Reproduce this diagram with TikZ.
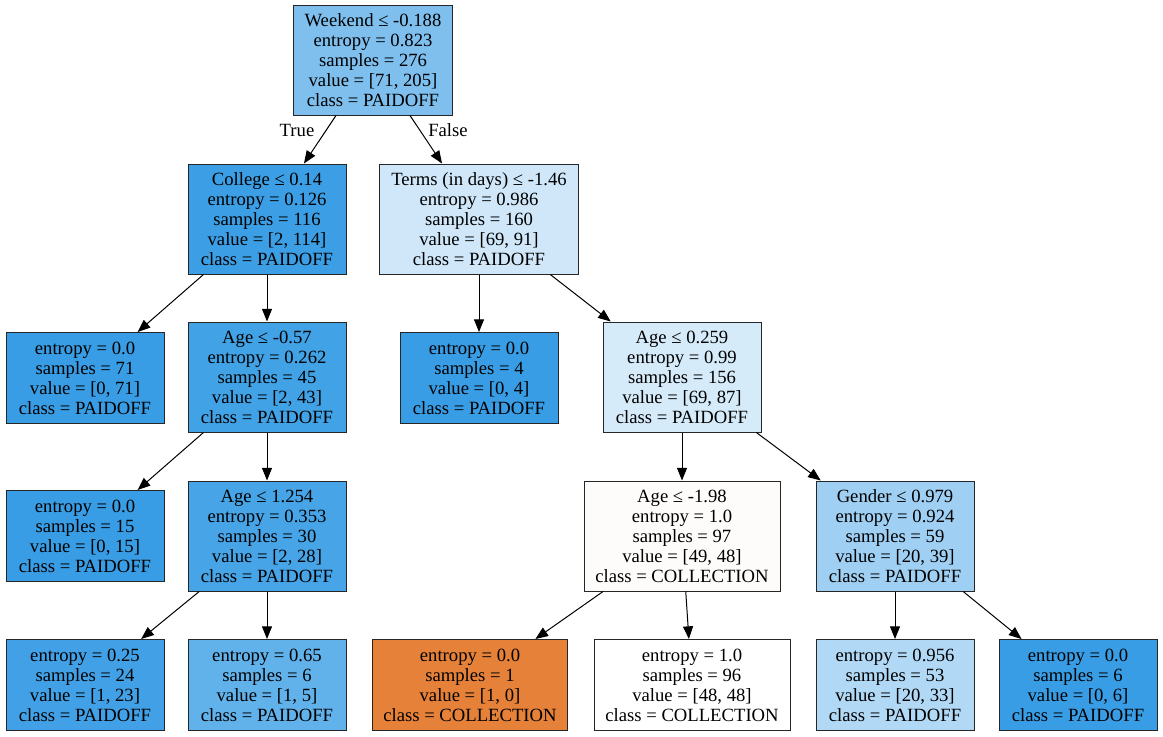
\documentclass[tikz,border=0pt]{standalone}
\usepackage{fontspec}
\setmainfont{Liberation Serif}
\usetikzlibrary{arrows.meta}
\definecolor{cWeekend}{HTML}{7EBFEE}
\definecolor{cCollege}{HTML}{3C9FE5}
\definecolor{cTerms}{HTML}{CFE7F9}
\definecolor{cPure}{HTML}{399DE5}
\definecolor{cAgeA}{HTML}{42A2E6}
\definecolor{cAgeB}{HTML}{D6EBFA}
\definecolor{cAgeC}{HTML}{47A4E7}
\definecolor{cAgeD}{HTML}{FEFCFB}
\definecolor{cGender}{HTML}{9FCFF2}
\definecolor{cLeafA}{HTML}{42A1E6}
\definecolor{cLeafB}{HTML}{61B1EA}
\definecolor{cColl}{HTML}{E58139}
\definecolor{cLeafC}{HTML}{B1D8F5}
\tikzset{
  split/.style={draw=black!85,line width=0.75pt,align=center,inner xsep=8.5pt,minimum width=118.5pt,minimum height=82.5pt,font=\fontsize{14}{15}\selectfont},
  leaf/.style={split,minimum height=68.25pt},
  lbl/.style={font=\fontsize{14}{15}\selectfont}
}
\begin{document}
\begin{tikzpicture}[>={Triangle[length=9.5pt,width=7.5pt]},x=0.75pt,y=-0.75pt]
		\useasboundingbox (0,0) rectangle (1163,736);
		% level 0
		\node[split,fill=cWeekend] (weekend) at (373,60) {Weekend ≤ -0.188\\entropy = 0.823\\samples = 276\\value = [71, 205]\\class = PAIDOFF};
		% level 1
		\node[split,fill=cCollege] (college) at (267,219) {College ≤ 0.14\\entropy = 0.126\\samples = 116\\value = [2, 114]\\class = PAIDOFF};
		\node[split,fill=cTerms] (terms) at (479,219) {Terms (in days) ≤ -1.46\\entropy = 0.986\\samples = 160\\value = [69, 91]\\class = PAIDOFF};
		% level 2
		\node[leaf,fill=cPure] (leafSeventyOne) at (85,378) {entropy = 0.0\\samples = 71\\value = [0, 71]\\class = PAIDOFF};
		\node[split,fill=cAgeA] (ageA) at (267,377) {Age ≤ -0.57\\entropy = 0.262\\samples = 45\\value = [2, 43]\\class = PAIDOFF};
		\node[leaf,fill=cPure] (leafFour) at (479,378) {entropy = 0.0\\samples = 4\\value = [0, 4]\\class = PAIDOFF};
		\node[split,fill=cAgeB] (ageB) at (682,377) {Age ≤ 0.259\\entropy = 0.99\\samples = 156\\value = [69, 87]\\class = PAIDOFF};
		% level 3
		\node[leaf,fill=cPure] (leafFifteen) at (85,536) {entropy = 0.0\\samples = 15\\value = [0, 15]\\class = PAIDOFF};
		\node[split,fill=cAgeC] (ageC) at (267,536) {Age ≤ 1.254\\entropy = 0.353\\samples = 30\\value = [2, 28]\\class = PAIDOFF};
		\node[split,fill=cAgeD] (ageD) at (682,536) {Age ≤ -1.98\\entropy = 1.0\\samples = 97\\value = [49, 48]\\class = COLLECTION};
		\node[split,fill=cGender] (gender) at (895,536) {Gender ≤ 0.979\\entropy = 0.924\\samples = 59\\value = [20, 39]\\class = PAIDOFF};
		% level 4
		\node[leaf,fill=cLeafA] (leafTwentyFour) at (85,685) {entropy = 0.25\\samples = 24\\value = [1, 23]\\class = PAIDOFF};
		\node[leaf,fill=cLeafB] (leafSix) at (267,685) {entropy = 0.65\\samples = 6\\value = [1, 5]\\class = PAIDOFF};
		\node[leaf,fill=cColl] (leafOne) at (470,685) {entropy = 0.0\\samples = 1\\value = [1, 0]\\class = COLLECTION};
		\node[leaf,fill=white] (leafNinetySix) at (692,685) {entropy = 1.0\\samples = 96\\value = [48, 48]\\class = COLLECTION};
		\node[leaf,fill=cLeafC] (leafFiftyThree) at (895,685) {entropy = 0.956\\samples = 53\\value = [20, 33]\\class = PAIDOFF};
		\node[leaf,fill=cPure] (leafSixB) at (1078,685) {entropy = 0.0\\samples = 6\\value = [0, 6]\\class = PAIDOFF};
		% edges
		\draw[->,line width=0.75pt] (weekend) -- (college);
		\draw[->,line width=0.75pt] (weekend) -- (terms);
		\node[lbl] (trueLbl) at (297,130) {True};
		\node[lbl] (falseLbl) at (448,130) {False};
		\draw[->,line width=0.75pt] (college) -- (leafSeventyOne);
		\draw[->,line width=0.75pt] (college) -- (ageA);
		\draw[->,line width=0.75pt] (terms) -- (leafFour);
		\draw[->,line width=0.75pt] (terms) -- (ageB);
		\draw[->,line width=0.75pt] (ageA) -- (leafFifteen);
		\draw[->,line width=0.75pt] (ageA) -- (ageC);
		\draw[->,line width=0.75pt] (ageB) -- (ageD);
		\draw[->,line width=0.75pt] (ageB) -- (gender);
		\draw[->,line width=0.75pt] (ageC) -- (leafTwentyFour);
		\draw[->,line width=0.75pt] (ageC) -- (leafSix);
		\draw[->,line width=0.75pt] (ageD) -- (leafOne);
		\draw[->,line width=0.75pt] (ageD) -- (leafNinetySix);
		\draw[->,line width=0.75pt] (gender) -- (leafFiftyThree);
		\draw[->,line width=0.75pt] (gender) -- (leafSixB);
\end{tikzpicture}
\end{document}
